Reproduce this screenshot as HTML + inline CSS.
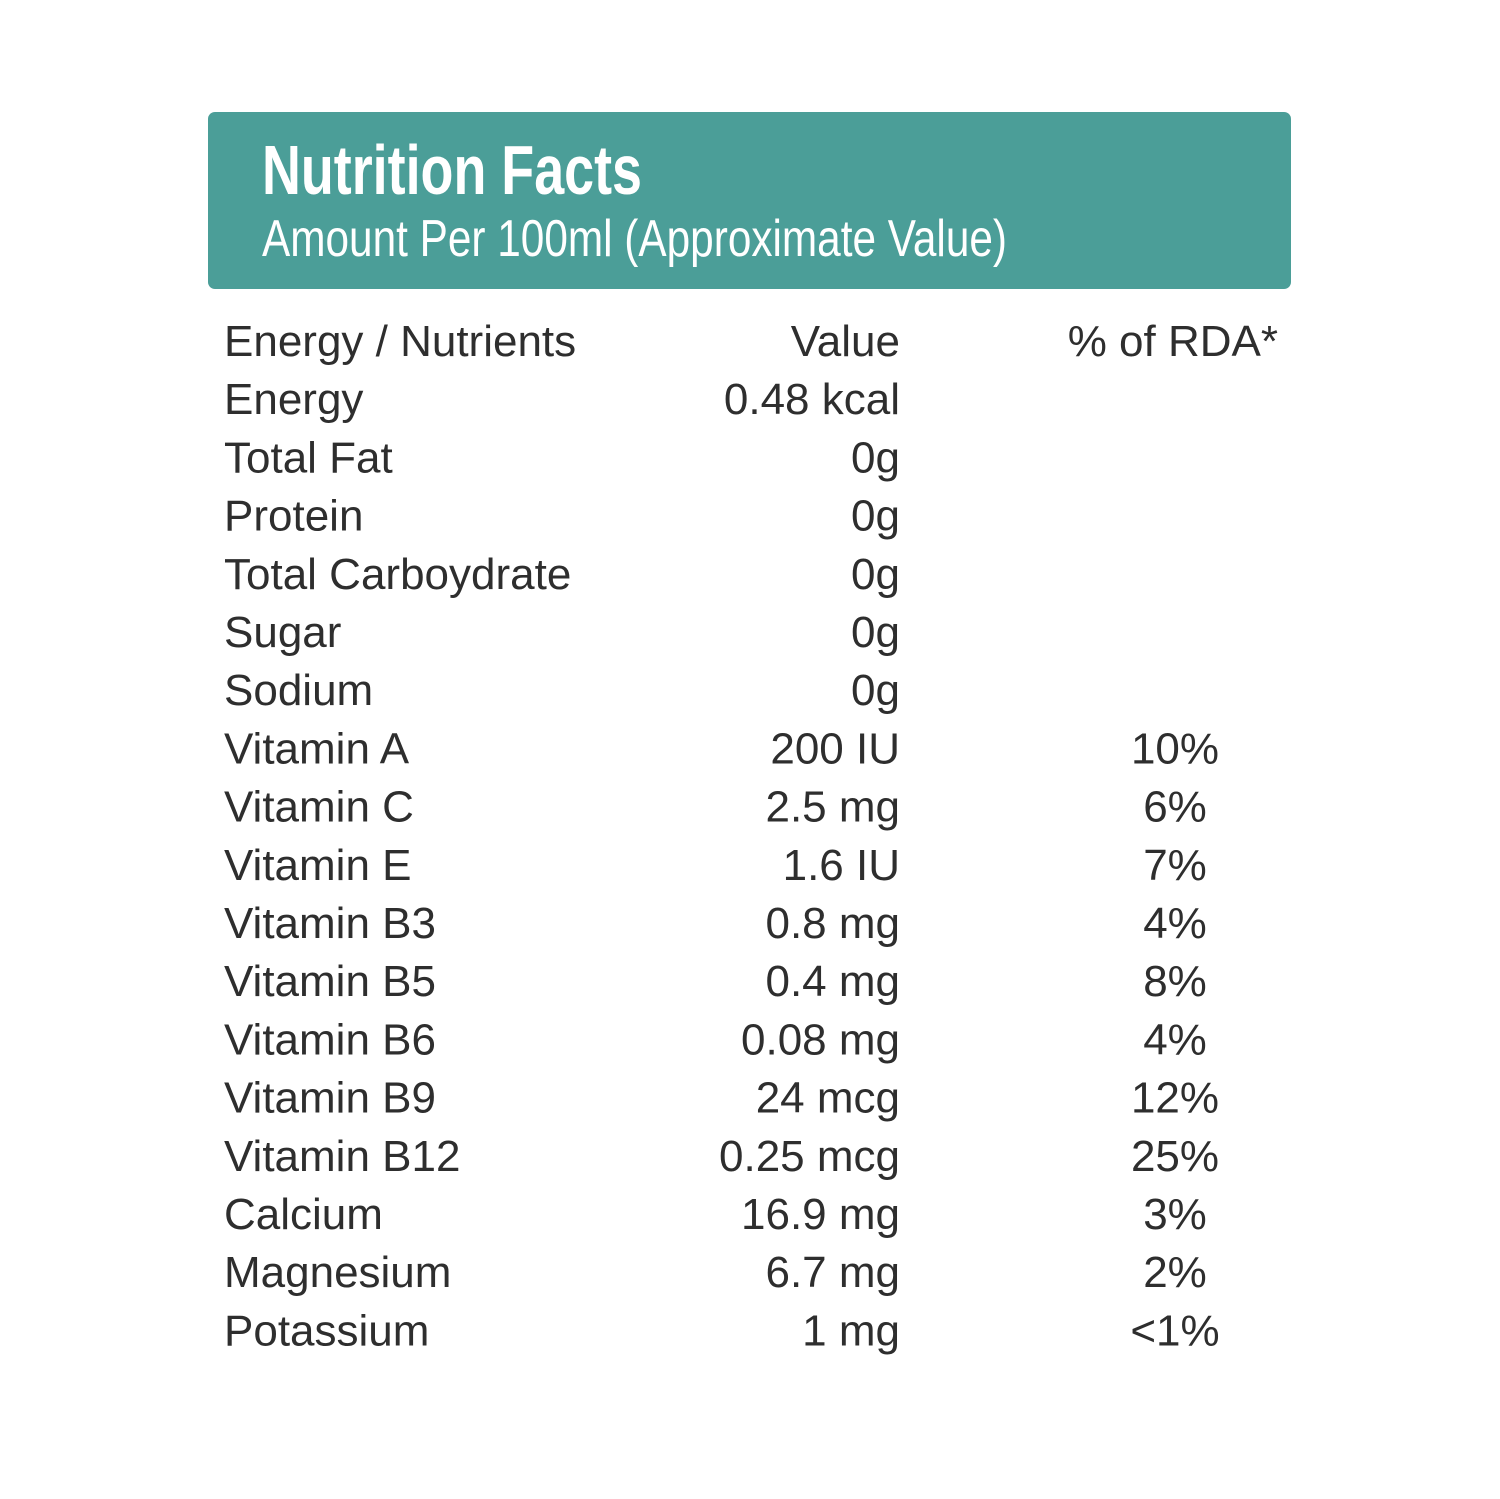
<!DOCTYPE html>
<html><head><meta charset="utf-8"><style>
html,body{margin:0;padding:0;background:#fff;}
svg{display:block;}
text{font-family:"Liberation Sans",sans-serif;fill:#2e2e2e;}
</style></head><body>
<svg width="1500" height="1499" viewBox="0 0 1500 1499">
<rect x="208" y="112" width="1083" height="177" rx="7" fill="#4b9e98"/>
<text x="262" y="194" font-size="70" font-weight="bold" style="fill:#fff;font-family:'Liberation Sans Narrow','Liberation Sans',sans-serif" textLength="380" lengthAdjust="spacingAndGlyphs">Nutrition Facts</text>
<text x="262" y="256" font-size="52" style="fill:#fff;font-family:'Liberation Sans Narrow','Liberation Sans',sans-serif" textLength="745" lengthAdjust="spacingAndGlyphs">Amount Per 100ml (Approximate Value)</text>
<g id="rows"></g>
</svg>
<script>
const names=["Energy / Nutrients","Energy","Total Fat","Protein","Total Carboydrate","Sugar","Sodium","Vitamin A","Vitamin C","Vitamin E","Vitamin B3","Vitamin B5","Vitamin B6","Vitamin B9","Vitamin B12","Calcium","Magnesium","Potassium"];
const values=["Value","0.48 kcal","0g","0g","0g","0g","0g","200 IU","2.5 mg","1.6 IU","0.8 mg","0.4 mg","0.08 mg","24 mcg","0.25 mcg","16.9 mg","6.7 mg","1 mg"];
const rdas=["% of RDA*","","","","","","","10%","6%","7%","4%","8%","4%","12%","25%","3%","2%","<1%"];
const g=document.getElementById('rows');
const NS="http://www.w3.org/2000/svg";
function rowY(i){return 356+i*58.2;}
function mk(txt,x,y,anchor,name){
  const t=document.createElementNS(NS,'text');
  t.setAttribute('x',x);t.setAttribute('y',y);
  t.setAttribute('font-size','44');
  t.setAttribute('text-anchor',anchor);
  
  
  t.textContent=txt;g.appendChild(t);return t;
}
names.forEach((n,i)=>{
  const y=rowY(i);
  mk(n,224,y,'start',i===0?'column-header-nutrient':'nutrient-name');
  mk(values[i],900,y,'end',i===0?'column-header-value':'nutrient-value');
  if(rdas[i]){
    if(i===0) mk(rdas[i],1278,y,'end','column-header-rda');
    else mk(rdas[i],1175,y,'middle','nutrient-rda');
  }
});
</script>
</body></html>
